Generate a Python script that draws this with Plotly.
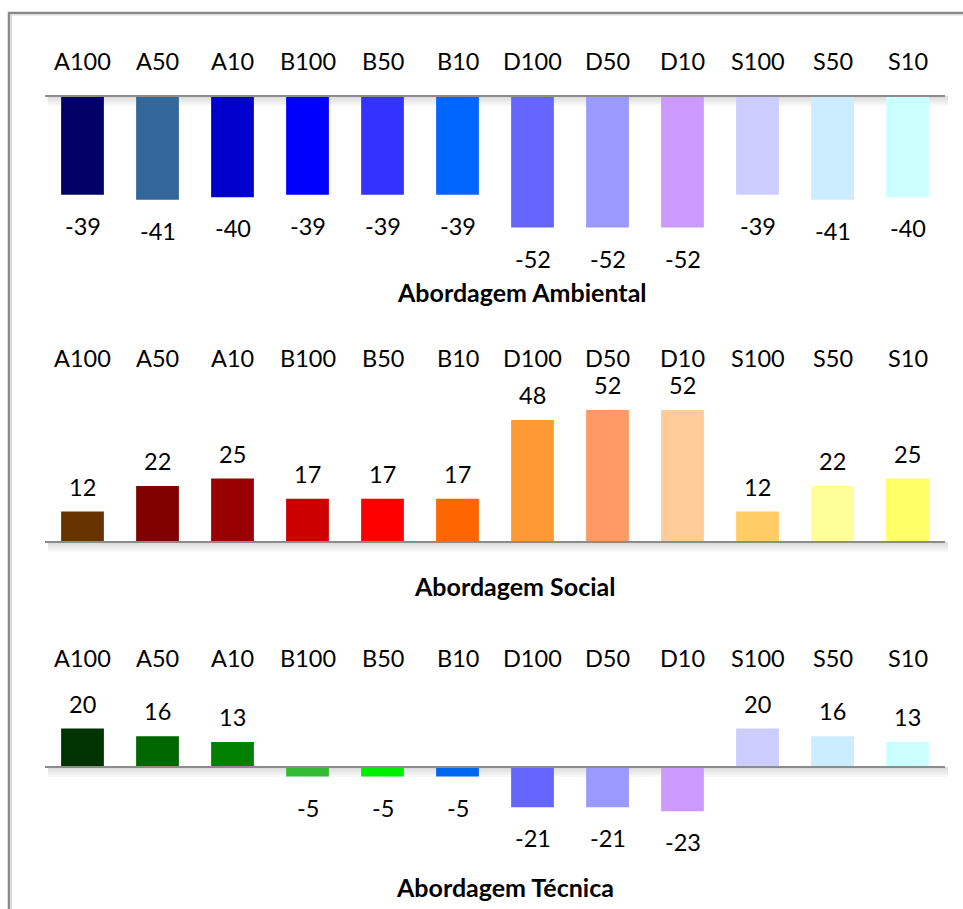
import plotly.graph_objects as go

# Scenario categories shared by the three panels
categories = ["A100", "A50", "A10", "B100", "B50", "B10",
              "D100", "D50", "D10", "S100", "S50", "S10"]

# Scores per approach
ambiental = [-39, -41, -40, -39, -39, -39, -52, -52, -52, -39, -41, -40]
social = [12, 22, 25, 17, 17, 17, 48, 52, 52, 12, 22, 25]
tecnica = [20, 16, 13, -5, -5, -5, -21, -21, -23, 20, 16, 13]

titles = ["Abordagem Ambiental", "Abordagem Social", "Abordagem Técnica"]

colors_ambiental = ["#000066", "#336699", "#0000CC", "#0000FF", "#3333FF", "#0066FF",
                    "#6666FF", "#9999FF", "#CC99FF", "#CCCCFF", "#CCECFF", "#CCFFFF"]
colors_social = ["#663300", "#800000", "#990000", "#CC0000", "#FF0000", "#FF6600",
                 "#FF9933", "#FF9966", "#FFCC99", "#FFCC66", "#FFFF99", "#FFFF66"]
colors_tecnica = ["#003300", "#006600", "#008000", "#33BB33", "#00EE00", "#0066EE",
                  "#6666FF", "#9999FF", "#CC99FF", "#CCCCFF", "#CCECFF", "#CCFFFF"]

W, H = 963, 909
FONT = "Lato, Carlito, Calibri, 'Open Sans', sans-serif"
TEXT = "#000000"
X0, X1 = 45, 945  # plot area horizontal extent (px)

# per-panel layout: zero line px, px per unit, domain top/bottom px,
# category label row px, title row px, title centre px
panels = [
    dict(values=ambiental, colors=colors_ambiental, zero=96, scale=2.53,
         top=75, bot=275, cat_y=61, title_y=292, title_x=522),
    dict(values=social, colors=colors_social, zero=542, scale=2.54,
         top=380, bot=565, cat_y=358, title_y=586, title_x=514),
    dict(values=tecnica, colors=colors_tecnica, zero=767, scale=1.92,
         top=690, bot=862, cat_y=658, title_y=887, title_x=505),
]


def py(px):
    return 1 - px / H


def pxx(px):
    return px / W


fig = go.Figure()
annotations = []
shapes = []

for i, p in enumerate(panels, start=1):
    xa = "x" if i == 1 else f"x{i}"
    ya = "y" if i == 1 else f"y{i}"
    fig.add_trace(go.Bar(
        x=categories, y=p["values"], xaxis=xa, yaxis=ya,
        marker=dict(color=p["colors"], line=dict(width=0)),
        hoverinfo="skip", showlegend=False,
    ))
    ymax = (p["zero"] - p["top"]) / p["scale"]
    ymin = -(p["bot"] - p["zero"]) / p["scale"]
    fig.layout[f"xaxis{'' if i == 1 else i}"] = dict(
        domain=[pxx(X0), pxx(X1)], range=[-0.5, len(categories) - 0.5],
        visible=False, anchor=ya, type="category", fixedrange=True)
    fig.layout[f"yaxis{'' if i == 1 else i}"] = dict(
        domain=[py(p["bot"]), py(p["top"])], range=[ymin, ymax],
        showgrid=False, showticklabels=False, showline=False, ticks="",
        zeroline=False, anchor=xa, fixedrange=True)

    # soft shadow under the baseline
    for k in range(1, 6):
        shapes.append(dict(
            type="rect", xref="paper", yref="paper",
            x0=pxx(X0 + 3), x1=pxx(X1 + 3),
            y0=py(p["zero"] + 2 * k), y1=py(p["zero"]),
            fillcolor="rgba(0,0,0,0.028)", line=dict(width=0), layer="below"))
    # baseline
    shapes.append(dict(
        type="line", xref="paper", yref=ya, x0=pxx(X0), x1=pxx(X1), y0=0, y1=0,
        line=dict(color="#8c8c8c", width=2), layer="above"))

    # category names above each panel
    for c in categories:
        annotations.append(dict(
            x=c, xref=xa, y=py(p["cat_y"]), yref="paper", text=c,
            showarrow=False, xanchor="center", yanchor="middle",
            font=dict(family=FONT, size=23.5, color=TEXT)))
    # value labels
    for c, v in zip(categories, p["values"]):
        annotations.append(dict(
            x=c, xref=xa, y=v, yref=ya, text=str(v),
            showarrow=False, xanchor="center", yanchor="middle",
            yshift=25 if v > 0 else -31,
            font=dict(family=FONT, size=23.5, color=TEXT)))
    # panel title
    annotations.append(dict(
        x=pxx(p["title_x"]), xref="paper", y=py(p["title_y"]), yref="paper",
        text=f"<b>{titles[i - 1]}</b>", showarrow=False,
        xanchor="center", yanchor="middle",
        font=dict(family=FONT, size=25, color=TEXT)))

# outer frame (top and left edges)
shapes.append(dict(type="line", xref="paper", yref="paper",
                   x0=pxx(8), x1=1, y0=py(13), y1=py(13),
                   line=dict(color="#8a8a8a", width=2.5)))
shapes.append(dict(type="line", xref="paper", yref="paper",
                   x0=pxx(9), x1=pxx(9), y0=py(12), y1=0,
                   line=dict(color="#8a8a8a", width=2.5)))
shapes.append(dict(type="line", xref="paper", yref="paper",
                   x0=pxx(11), x1=1, y0=py(15), y1=py(15),
                   line=dict(color="#d9d9d9", width=1.2)))
shapes.append(dict(type="line", xref="paper", yref="paper",
                   x0=pxx(11.5), x1=pxx(11.5), y0=py(15), y1=0,
                   line=dict(color="#d9d9d9", width=1.2)))

fig.update_layout(
    width=W, height=H, margin=dict(l=0, r=0, t=0, b=0),
    paper_bgcolor="white", plot_bgcolor="white",
    bargap=0.43, annotations=annotations, shapes=shapes,
    font=dict(family=FONT),
)

fig.write_html("out.html", config={"displayModeBar": False})
